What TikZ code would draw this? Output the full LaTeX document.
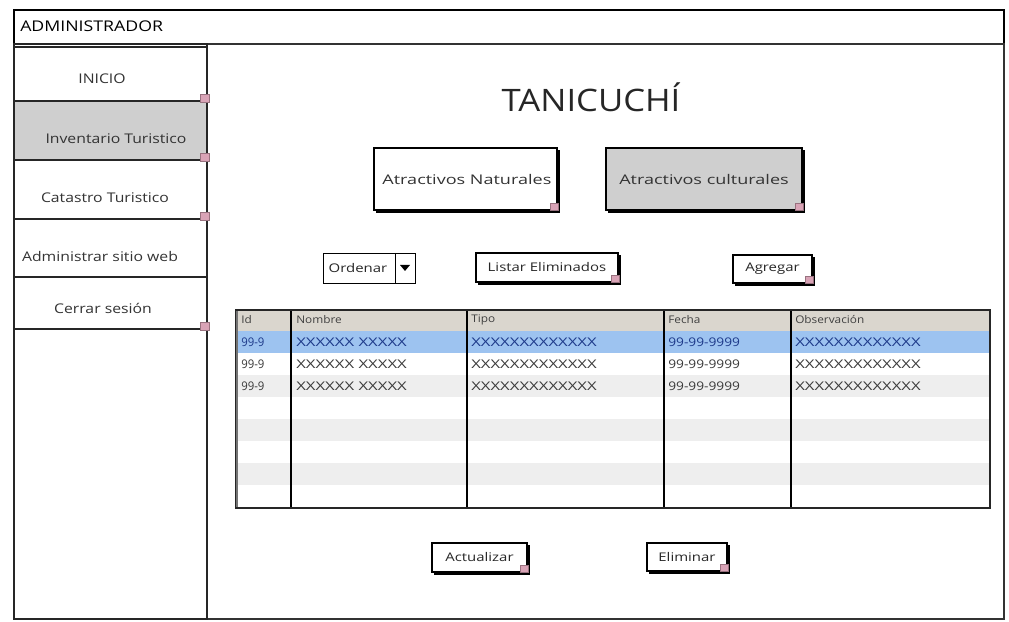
\documentclass[tikz,border=0pt]{standalone}
\usepackage{fontspec}
\setmainfont{Open Sans}
\usetikzlibrary{fit}
\definecolor{selgray}{HTML}{CFCFCF}
\definecolor{headbg}{HTML}{DAD6CE}
\definecolor{rowblue}{HTML}{9DC3F0}
\definecolor{rowgray}{HTML}{EEEEEE}
\definecolor{seltext}{HTML}{1E3A8A}
\definecolor{celltext}{HTML}{3A3A3A}
\definecolor{handlepink}{HTML}{D9A3B6}
% wide hand-drawn look: stretch text horizontally
\newcommand\wide[2]{\scalebox{#1}[1]{#2}}
\tikzset{
  menuitem/.style={draw=black!85, line width=1.4pt, inner sep=0pt},
  btnbox/.style={draw=black, line width=0.8pt, fill=white, inner sep=0pt},
  shadowline/.style={line width=2.2pt, draw=black, line cap=butt},
  handle/.style={fill=handlepink, draw=handlepink!70!black, line width=0.2pt},
  lbl/.style={font=\fontsize{9.5}{11}\selectfont, text=black!80},
  smlbl/.style={font=\fontsize{8.5}{10}\selectfont, text=black!85},
  cellhead/.style={anchor=west, inner sep=0pt, font=\fontsize{7.5}{9}\selectfont, text=black!75},
  cell/.style={anchor=west, inner sep=0pt, font=\fontsize{8.5}{10}\selectfont, text=celltext},
  cellsel/.style={cell, text=seltext},
}
\newcommand\grip[1]{\fill[handle] ([xshift=-5.5pt]#1.south east) rectangle ([xshift=0.5pt,yshift=5.5pt]#1.south east);}
\newcommand\btnshadow[1]{\draw[shadowline] ([xshift=2pt,yshift=-0.6pt]#1.south west) -- ([xshift=0.6pt,yshift=-0.6pt]#1.south east) -- ([xshift=0.6pt,yshift=-2pt]#1.north east);}
\begin{document}
\begin{tikzpicture}[x=0.025cm, y=-0.025cm]
\useasboundingbox (0,0) rectangle (1009,622);
\fill[white] (0,0) rectangle (1009,622);

% window frame and header bar
\node[fit={(14,10) (1004,44)}, inner sep=0pt, draw=black, line width=1.6pt] (header) {};
\node[anchor=west, inner sep=0pt, font=\fontsize{10.5}{12}\selectfont] (admin) at (20,26) {\wide{1.2}{ADMINISTRADOR}};
\node[fit={(207,44) (1004,619)}, inner sep=0pt, draw=black!80, line width=0.8pt] (content) {};
\node[fit={(14,44) (207,619)}, inner sep=0pt, draw=black!85, line width=1.4pt] (sidebar) {};

% side menu
\node[menuitem, fit={(14,47) (207,101)}] (inicio) {};
\node[menuitem, fill=selgray, fit={(14,101) (207,160)}] (invent) {};
\node[menuitem, fit={(14,160) (207,219)}] (catastro) {};
\node[menuitem, fit={(14,219) (207,277)}] (adminweb) {};
\node[menuitem, fit={(14,277) (207,329)}] (cerrar) {};
\node[lbl] (tinicio) at (102,79) {\wide{1.18}{INICIO}};
\node[lbl] (tinvent) at (116,139) {\wide{1.18}{Inventario Turistico}};
\node[lbl] (tcatastro) at (105,198) {\wide{1.18}{Catastro Turistico}};
\node[lbl] (tadminweb) at (100,256) {\wide{1.18}{Administrar sitio web}};
\node[lbl] (tcerrar) at (103,308) {\wide{1.18}{Cerrar sesión}};
\foreach \n in {inicio,invent,catastro,cerrar} {\grip{\n}}

% title
\node[font=\fontsize{22}{26}\selectfont, text=black!85] (title) at (591,97) {\wide{1.12}{TANICUCHÍ}};

% category buttons
\node[btnbox, fit={(374,148) (557,210)}] (nat) {};
\node[btnbox, fill=selgray, fit={(606,148) (802,210)}] (cult) {};
\node[lbl] at ([xshift=1pt]nat.center) {\wide{1.35}{Atractivos Naturales}};
\node[lbl] at (cult.center) {\wide{1.35}{Atractivos culturales}};
\btnshadow{nat}\grip{nat}
\btnshadow{cult}\grip{cult}

% toolbar
\node[btnbox, line width=0.7pt, fit={(323,253) (415,283)}] (ordenar) {};
\draw[line width=0.7pt] (395,253) -- (395,283);
\fill (400,265) -- (410,265) -- (405,271) -- cycle;
\node[smlbl] at (358,268) {\wide{1.25}{Ordenar}};
\node[btnbox, fit={(476,253) (618,282)}] (listar) {};
\node[smlbl] at (listar.center) {\wide{1.25}{Listar Eliminados}};
\btnshadow{listar}\grip{listar}
\node[btnbox, fit={(733,255) (812,283)}] (agregar) {};
\node[smlbl] at (agregar.center) {\wide{1.25}{Agregar}};
\btnshadow{agregar}\grip{agregar}

% data grid
\fill[white] (236,310) rectangle (990,508);
\fill[headbg] (236,310) rectangle (990,331);
\fill[rowblue] (236,331) rectangle (990,353);
\foreach \k in {2,4,6} {\fill[rowgray] (236,{331+22*\k}) rectangle (990,{353+22*\k});}
\foreach \cx in {291,467,664,791} {\draw[line width=1.2pt] (\cx,310) -- (\cx,508);}
\node[fit={(236,310) (990,508)}, inner sep=0pt, draw=black!85, line width=1.5pt] (grid) {};
\draw[line width=1.8pt, black!55] (237,311) -- (237,507);

\foreach \cx/\t in {241/Id, 296/Nombre, 471/Tipo, 668/Fecha, 795/Observación} {\node[cellhead] at (\cx,320) {\wide{1.12}{\t}};}
\node[cellsel] at (241,342) {\wide{0.95}{99-9}};
\node[cellsel] at (296,342) {\wide{1.4}{XXXXXX XXXXX}};
\node[cellsel] at (471,342) {\wide{1.4}{XXXXXXXXXXXXX}};
\node[cellsel] at (668,342) {\wide{1.15}{99-99-9999}};
\node[cellsel] at (795,342) {\wide{1.4}{XXXXXXXXXXXXX}};
\foreach \ry in {364,386} {
  \node[cell] at (241,\ry) {\wide{0.95}{99-9}};
  \node[cell] at (296,\ry) {\wide{1.4}{XXXXXX XXXXX}};
  \node[cell] at (471,\ry) {\wide{1.4}{XXXXXXXXXXXXX}};
  \node[cell] at (668,\ry) {\wide{1.15}{99-99-9999}};
  \node[cell] at (795,\ry) {\wide{1.4}{XXXXXXXXXXXXX}};
}

% action buttons
\node[btnbox, fit={(432,543) (527,572)}] (actualizar) {};
\node[smlbl] at (actualizar.center) {\wide{1.25}{Actualizar}};
\btnshadow{actualizar}\grip{actualizar}
\node[btnbox, fit={(647,543) (727,571)}] (eliminar) {};
\node[smlbl] at (eliminar.center) {\wide{1.25}{Eliminar}};
\btnshadow{eliminar}\grip{eliminar}
\end{tikzpicture}
\end{document}
